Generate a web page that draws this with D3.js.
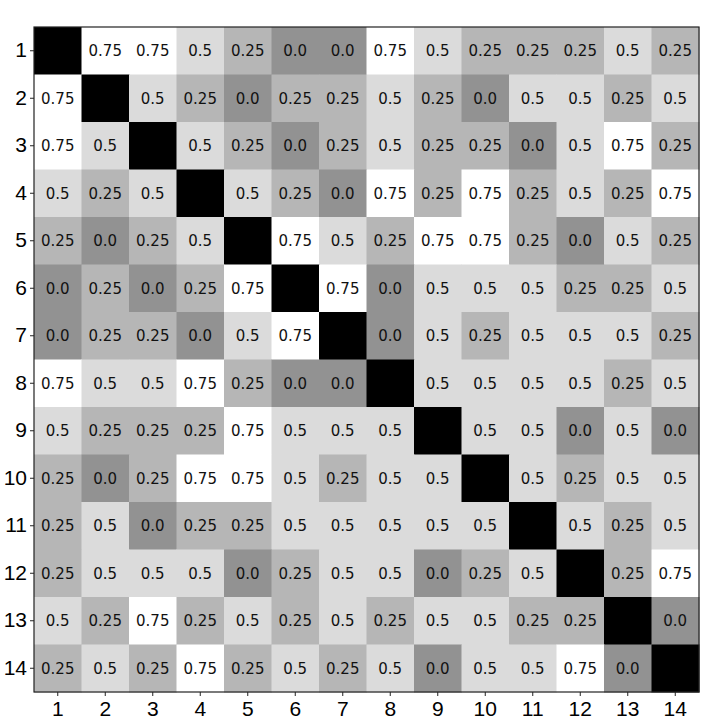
<!DOCTYPE html>
<html>
<head>
<meta charset="utf-8">
<script src="https://d3js.org/d3.v7.min.js"></script>
<style>
  body { margin: 0; background: #fff; }
</style>
</head>
<body>
<script>
// labels of the 14 items (rows and columns)
const labels = ["1","2","3","4","5","6","7","8","9","10","11","12","13","14"];

// one array per row; null on the diagonal (drawn black, no text)
const row1  = [null,0.75,0.75,0.5,0.25,0.0,0.0,0.75,0.5,0.25,0.25,0.25,0.5,0.25];
const row2  = [0.75,null,0.5,0.25,0.0,0.25,0.25,0.5,0.25,0.0,0.5,0.5,0.25,0.5];
const row3  = [0.75,0.5,null,0.5,0.25,0.0,0.25,0.5,0.25,0.25,0.0,0.5,0.75,0.25];
const row4  = [0.5,0.25,0.5,null,0.5,0.25,0.0,0.75,0.25,0.75,0.25,0.5,0.25,0.75];
const row5  = [0.25,0.0,0.25,0.5,null,0.75,0.5,0.25,0.75,0.75,0.25,0.0,0.5,0.25];
const row6  = [0.0,0.25,0.0,0.25,0.75,null,0.75,0.0,0.5,0.5,0.5,0.25,0.25,0.5];
const row7  = [0.0,0.25,0.25,0.0,0.5,0.75,null,0.0,0.5,0.25,0.5,0.5,0.5,0.25];
const row8  = [0.75,0.5,0.5,0.75,0.25,0.0,0.0,null,0.5,0.5,0.5,0.5,0.25,0.5];
const row9  = [0.5,0.25,0.25,0.25,0.75,0.5,0.5,0.5,null,0.5,0.5,0.0,0.5,0.0];
const row10 = [0.25,0.0,0.25,0.75,0.75,0.5,0.25,0.5,0.5,null,0.5,0.25,0.5,0.5];
const row11 = [0.25,0.5,0.0,0.25,0.25,0.5,0.5,0.5,0.5,0.5,null,0.5,0.25,0.5];
const row12 = [0.25,0.5,0.5,0.5,0.0,0.25,0.5,0.5,0.0,0.25,0.5,null,0.25,0.75];
const row13 = [0.5,0.25,0.75,0.25,0.5,0.25,0.5,0.25,0.5,0.5,0.25,0.25,null,0.0];
const row14 = [0.25,0.5,0.25,0.75,0.25,0.5,0.25,0.5,0.0,0.5,0.5,0.75,0.0,null];

const rows = [row1,row2,row3,row4,row5,row6,row7,row8,row9,row10,row11,row12,row13,row14];

const width = 720, height = 720;
const margin = {top: 27, right: 21, bottom: 28, left: 34};

const svg = d3.select("body").append("svg")
    .attr("width", width)
    .attr("height", height);

const x = d3.scaleBand().domain(labels).range([margin.left, width - margin.right]);
const y = d3.scaleBand().domain(labels).range([margin.top, height - margin.bottom]);

// gray map: diagonal at -1 -> black, 0.75 -> white
const color = d3.scaleLinear().domain([-1, 0.75]).range(["#000", "#fff"]);

const cells = [];
rows.forEach((r, i) => r.forEach((v, j) => {
    cells.push({row: labels[i], col: labels[j], v: v});
}));

svg.append("g").selectAll("rect")
    .data(cells)
    .join("rect")
        .attr("x", d => x(d.col))
        .attr("y", d => y(d.row))
        .attr("width", x.bandwidth() + 0.5)
        .attr("height", y.bandwidth() + 0.5)
        .attr("fill", d => color(d.v === null ? -1 : d.v));

svg.append("g").selectAll("text")
    .data(cells.filter(d => d.v !== null))
    .join("text")
        .attr("x", d => x(d.col) + x.bandwidth() / 2)
        .attr("y", d => y(d.row) + y.bandwidth() / 2)
        .attr("text-anchor", "middle")
        .attr("dy", "0.36em")
        .style("font-family", "'DejaVu Sans', sans-serif")
        .style("font-size", "15px")
        .style("fill", "#111")
        .text(d => d.v.toFixed(2).replace(/0$/, "").replace(/\.$/, ".0"));

// axes
const xAxis = svg.append("g")
    .attr("transform", `translate(0,${height - margin.bottom})`)
    .call(d3.axisBottom(x).tickSize(4).tickPadding(5));
const yAxis = svg.append("g")
    .attr("transform", `translate(${margin.left},0)`)
    .call(d3.axisLeft(y).tickSize(4).tickPadding(3));

[xAxis, yAxis].forEach(a => {
    a.select(".domain").remove();
    a.selectAll("line").attr("stroke", "#222");
    a.selectAll("text")
        .style("font-family", "'Liberation Sans', Arial, sans-serif")
        .style("font-size", "21px")
        .style("fill", "#000");
});

// frame
svg.append("rect")
    .attr("x", margin.left)
    .attr("y", margin.top)
    .attr("width", width - margin.left - margin.right)
    .attr("height", height - margin.top - margin.bottom)
    .attr("fill", "none")
    .attr("stroke", "#222")
    .attr("stroke-width", 1.2);
</script>
</body>
</html>
